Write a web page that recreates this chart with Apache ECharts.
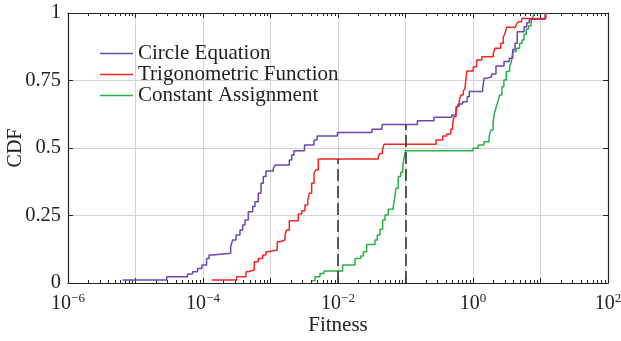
<!DOCTYPE html>
<html><head><meta charset="utf-8">
<script src="https://cdn.jsdelivr.net/npm/echarts@6/dist/echarts.min.js"></script>
<style>html,body{margin:0;padding:0;background:#fff}#c{width:621px;height:341px}</style>
</head><body><div id="c"></div>
<script>
const seriesNames = ['Circle Equation', 'Trigonometric Function', 'Constant Assignment'];
const circleX = [6.4e-6, 2.9e-5, 5.9e-5, 7.0e-5, 8.3e-5, 9.6e-5, 1.13e-4, 1.23e-4, 1.39e-4, 2.57e-4, 2.75e-4, 3.08e-4, 3.53e-4, 3.87e-4, 4.19e-4, 4.69e-4, 5.45e-4, 5.89e-4, 6.59e-4, 7.23e-4, 7.82e-4, 8.57e-4, 1.10e-3, 1.17e-3, 1.90e-3, 2.06e-3, 2.23e-3, 3.19e-3, 4.41e-3, 4.89e-3, 9.8e-3, 3.19e-2, 4.49e-2, 0.150, 0.264, 0.483, 0.56, 0.60, 0.70, 0.82, 0.88, 1.39, 1.46, 1.60, 1.89, 2.19, 2.88, 3.45, 3.87, 4.19, 4.53, 5.7, 6.25, 6.83, 11.7];
const circleY = [0.011, 0.023, 0.033, 0.042, 0.054, 0.067, 0.091, 0.104, 0.11, 0.135, 0.159, 0.178, 0.196, 0.215, 0.233, 0.264, 0.283, 0.301, 0.332, 0.369, 0.394, 0.415, 0.425, 0.437, 0.456, 0.474, 0.49, 0.511, 0.53, 0.544, 0.557, 0.569, 0.587, 0.601, 0.614, 0.622, 0.653, 0.663, 0.671, 0.69, 0.709, 0.721, 0.758, 0.764, 0.774, 0.804, 0.82, 0.832, 0.865, 0.888, 0.931, 0.949, 0.964, 0.977, 1.0];
const trigX = [1.35e-4, 3.16e-4, 4.33e-4, 4.69e-4, 5.75e-4, 6.59e-4, 7.66e-4, 8.57e-4, 9.27e-4, 1.26e-3, 1.38e-3, 1.64e-3, 1.74e-3, 1.90e-3, 2.58e-3, 2.90e-3, 3.24e-3, 3.56e-3, 3.76e-3, 4.07e-3, 4.41e-3, 4.72e-3, 5.10e-3, 3.95e-2, 4.19e-2, 4.55e-2, 4.8e-2, 0.283, 0.356, 0.407, 0.467, 0.50, 0.52, 0.56, 0.585, 0.627, 0.664, 0.718, 0.76, 0.81, 1.01, 1.13, 1.35, 2.0, 2.12, 2.57, 2.81, 2.98, 3.16, 4.19, 4.43, 4.69, 5.26, 12.0];
const trigY = [0.011, 0.023, 0.042, 0.048, 0.079, 0.091, 0.104, 0.116, 0.122, 0.153, 0.159, 0.178, 0.196, 0.231, 0.256, 0.268, 0.289, 0.307, 0.332, 0.369, 0.406, 0.419, 0.459, 0.47, 0.48, 0.493, 0.514, 0.53, 0.544, 0.552, 0.569, 0.591, 0.616, 0.634, 0.656, 0.678, 0.696, 0.71, 0.721, 0.785, 0.801, 0.826, 0.838, 0.851, 0.869, 0.888, 0.91, 0.925, 0.947, 0.953, 0.959, 0.968, 0.98, 1.0];
const constX = [4.12e-3, 4.56e-3, 5.41e-3, 6.21e-3, 1.17e-2, 1.79e-2, 2.17e-2, 2.37e-2, 2.66e-2, 3.53e-2, 3.82e-2, 4.19e-2, 4.59e-2, 4.97e-2, 5.56e-2, 6.59e-2, 6.98e-2, 7.22e-2, 7.82e-2, 8.49e-2, 9.1e-2, 9.5e-2, 0.1, 1.0, 1.19, 1.45, 1.73, 1.84, 1.98, 2.07, 2.21, 2.33, 2.47, 2.68, 2.87, 3.11, 3.48, 3.68, 3.90, 4.37, 4.89, 5.32, 5.70, 6.15, 6.64, 7.27, 7.71, 8.14];
const constY = [0.008, 0.023, 0.035, 0.044, 0.067, 0.091, 0.10, 0.116, 0.143, 0.159, 0.178, 0.199, 0.233, 0.252, 0.273, 0.285, 0.32, 0.351, 0.394, 0.409, 0.431, 0.462, 0.49, 0.499, 0.511, 0.523, 0.542, 0.567, 0.591, 0.628, 0.653, 0.67, 0.696, 0.727, 0.752, 0.783, 0.801, 0.817, 0.857, 0.869, 0.888, 0.9, 0.921, 0.941, 0.953, 0.97, 0.986, 1.0];
const thresholdX = [0.01, 0.1];
const thresholdTop = [0.459, 0.587];
const yTicks = [0, 0.25, 0.5, 0.75, 1];
const xLabelExponents = [-6, -4, -2, 0, 2];

const FONT = 'Liberation Serif';
const colors = ['#6a46b4', '#f02626', '#28b04c'];
const zip = (xs, ys) => xs.map((x, i) => [x, ys[i]]);

const chart = echarts.init(document.getElementById('c'));
const axisLine = {show: true, onZero: false, lineStyle: {color: '#222', width: 1.2}};
const xBase = {
  type: 'log', logBase: 10, min: 1e-6, max: 1e2,
  axisLine: axisLine,
  axisTick: {show: true, inside: true, length: 5, lineStyle: {color: '#222', width: 1}},
  minorTick: {show: true, splitNumber: 9, length: 3, lineStyle: {color: '#222', width: 1}},
};
const yBase = {
  type: 'value', min: 0, max: 1, interval: 0.25,
  axisLine: axisLine,
  axisTick: {show: true, inside: true, length: 5, lineStyle: {color: '#222', width: 1}},
};
const sup = e => (e < 0 ? '\u2212' + (-e) : String(e));
chart.setOption({
  animation: false,
  grid: {left: 68, right: 13, top: 13, bottom: 58, containLabel: false, outerBoundsMode: 'none'},
  legend: {
    data: seriesNames, orient: 'vertical', left: 95, top: 38,
    icon: 'rect', itemWidth: 33, itemHeight: 1.5, itemGap: 0,
    textStyle: {fontFamily: FONT, fontSize: 21, color: '#222', lineHeight: 20}
  },
  xAxis: [
    Object.assign({}, xBase, {
      position: 'bottom',
      name: 'Fitness', nameLocation: 'middle', nameGap: 32, nameMoveOverlap: false,
      nameTextStyle: {fontFamily: FONT, fontSize: 21, color: '#222'},
      splitLine: {show: true, lineStyle: {color: '#d4d4d4', width: 1}},
      axisLabel: {
        margin: 9, showMinLabel: true, showMaxLabel: true,
        formatter: v => {
          const e = Math.round(Math.log10(v));
          return xLabelExponents.includes(e) ? '{b|10}{s|' + sup(e) + '}' : '';
        },
        rich: {
          b: {fontFamily: FONT, fontSize: 20, color: '#222', lineHeight: 22, verticalAlign: 'bottom'},
          s: {fontFamily: FONT, fontSize: 13, color: '#222', lineHeight: 22, verticalAlign: 'top'}
        }
      }
    }),
    Object.assign({}, xBase, {position: 'top', axisLabel: {show: false}, splitLine: {show: false}})
  ],
  yAxis: [
    Object.assign({}, yBase, {
      position: 'left',
      name: 'CDF', nameLocation: 'middle', nameGap: 42, nameRotate: 90, nameMoveOverlap: false,
      nameTextStyle: {fontFamily: FONT, fontSize: 20, color: '#222'},
      splitLine: {show: true, lineStyle: {color: '#d4d4d4', width: 1}},
      axisLabel: {fontFamily: FONT, fontSize: 20.5, color: '#222', margin: 7,
        formatter: v => String(yTicks.find(t => Math.abs(t - v) < 1e-9) ?? v)}
    }),
    Object.assign({}, yBase, {position: 'right', axisLabel: {show: false}, splitLine: {show: false}})
  ],
  series: [
    {name: seriesNames[0], type: 'line', step: 'end', symbol: 'none', data: zip(circleX, circleY),
     color: colors[0], lineStyle: {width: 1.5, color: colors[0]}, z: 3},
    {name: seriesNames[1], type: 'line', step: 'end', symbol: 'none', data: zip(trigX, trigY),
     color: colors[1], lineStyle: {width: 1.5, color: colors[1]}, z: 4,
     markLine: {
       silent: true, symbol: ['none', 'none'], label: {show: false}, animation: false,
       lineStyle: {type: [12, 5], color: '#333', width: 1.6},
       data: thresholdX.map((x, i) => [{coord: [x, 0]}, {coord: [x, thresholdTop[i]]}])
     }},
    {name: seriesNames[2], type: 'line', step: 'end', symbol: 'none', data: zip(constX, constY),
     color: colors[2], lineStyle: {width: 1.5, color: colors[2]}, z: 2}
  ]
});
</script></body></html>
